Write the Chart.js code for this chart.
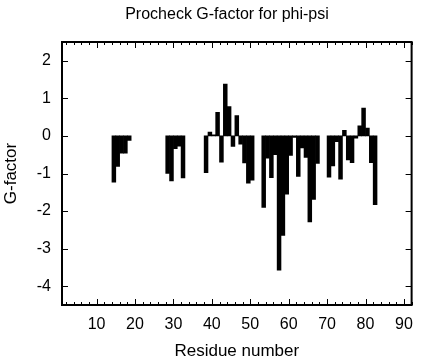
<!DOCTYPE html>
<html>
<head>
<meta charset="utf-8">
<title>Procheck G-factor for phi-psi</title>
<script src="https://cdn.jsdelivr.net/npm/chart.js@4.4.1/dist/chart.umd.min.js"></script>
<style>
  html, body { margin: 0; padding: 0; background: #fff; }
  #wrap { width: 423px; height: 360px; }
</style>
</head>
<body>
<div id="wrap"><canvas id="gfactor" width="423" height="360"></canvas></div>
<script>
/* G-factor per residue */
const residues = [14, 15, 16, 17, 18,
  28, 29, 30, 31, 32,
  38, 39, 40, 41, 42, 43, 44, 45, 46, 47, 48, 49, 50,
  53, 54, 55, 56, 57, 58, 59, 60, 61, 62, 63, 64, 65, 66, 67,
  70, 71, 72, 73, 74, 75, 76, 77, 78, 79, 80, 81, 82];
const gFactor = [-1.23, -0.81, -0.46, -0.46, -0.12,
  -1.00, -1.20, -0.34, -0.27, -1.12,
  -0.98, 0.10, 0.03, 0.63, -0.70, 1.38, 0.78, -0.28, 0.54, -0.22, -0.72, -1.26, -1.18,
  -1.90, -0.59, -1.11, -0.50, -3.57, -2.65, -1.55, -0.52, -0.04, -1.08, -0.32, -0.57, -2.29, -1.69, -0.73,
  -1.10, -0.80, -0.15, -1.15, 0.15, -0.64, -0.71, -0.06, 0.27, 0.74, 0.21, -0.71, -1.83];
const xTickLabels = [10, 20, 30, 40, 50, 60, 70, 80, 90];
const yTickLabels = [2, 1, 0, -1, -2, -3, -4];

const FONT = '"Liberation Sans", Arial, Helvetica, sans-serif';

/* ---------- frame + inward ticks, like the PostScript original ---------- */
const frameTicks = {
  id: "frameTicks",
  afterDraw(chart) {
    const { ctx, chartArea: a, scales: { x, y } } = chart;
    ctx.save();
    ctx.strokeStyle = "#000";
    ctx.lineWidth = 1;
    ctx.beginPath();
    for (let v = 2; v <= x.max; v += 2) {
      const px = Math.round(x.getPixelForValue(v)) + 0.5;
      const len = v % 10 === 0 ? 6 : 3;
      ctx.moveTo(px, a.bottom); ctx.lineTo(px, a.bottom - len);
      ctx.moveTo(px, a.top); ctx.lineTo(px, a.top + len);
    }
    yTickLabels.forEach(v => {
      const py = Math.round(y.getPixelForValue(v)) + 0.5;
      ctx.moveTo(a.left, py); ctx.lineTo(a.left + 6, py);
      ctx.moveTo(a.right, py); ctx.lineTo(a.right - 6, py);
    });
    ctx.stroke();
    ctx.lineWidth = 2;
    ctx.strokeRect(a.left, a.top, a.right - a.left, a.bottom - a.top);

    // plot title
    ctx.fillStyle = "#000";
    ctx.font = "16px " + FONT;
    ctx.textAlign = "center";
    ctx.textBaseline = "middle";
    ctx.fillText("Procheck G-factor for phi-psi", 227, 15);
    ctx.restore();
  }
};

/* bar for residue r covers r .. r+1 on the axis */
const points = residues.map((r, i) => ({ x: r + 0.5, y: gFactor[i] }));

new Chart(document.getElementById("gfactor"), {
  type: "bar",
  data: {
    datasets: [{
      data: points,
      backgroundColor: "#000",
      borderWidth: 0,
      barPercentage: 1,
      categoryPercentage: 1
    }]
  },
  options: {
    responsive: false,
    animation: false,
    layout: { padding: { left: 0, right: 8, top: 42, bottom: 0 } },
    plugins: {
      legend: { display: false },
      tooltip: { enabled: false }
    },
    scales: {
      x: {
        type: "linear",
        offset: false,
        min: 1,
        max: 92,
        afterBuildTicks: s => { s.ticks = xTickLabels.map(v => ({ value: v })); },
        afterFit: s => { s.height = 55; },
        grid: { display: false, drawTicks: false, offset: false },
        border: { display: false },
        ticks: { color: "#000", font: { family: FONT, size: 16 }, padding: 10, maxRotation: 0, autoSkip: false },
        title: {
          display: true,
          text: "Residue number",
          color: "#000",
          font: { family: FONT, size: 17, lineHeight: 1 },
          padding: { top: 0, bottom: 0 }
        }
      },
      y: {
        min: -4.5,
        max: 2.5,
        afterBuildTicks: s => { s.ticks = yTickLabels.map(v => ({ value: v })); },
        afterFit: s => { s.width = 62; },
        grid: { display: false, drawTicks: false },
        border: { display: false },
        ticks: { color: "#000", font: { family: FONT, size: 16 }, padding: 11 },
        title: {
          display: true,
          text: "G-factor",
          color: "#000",
          font: { family: FONT, size: 17, lineHeight: 1 },
          padding: { top: 3, bottom: 0 }
        }
      }
    }
  },
  plugins: [frameTicks]
});
</script>
</body>
</html>
